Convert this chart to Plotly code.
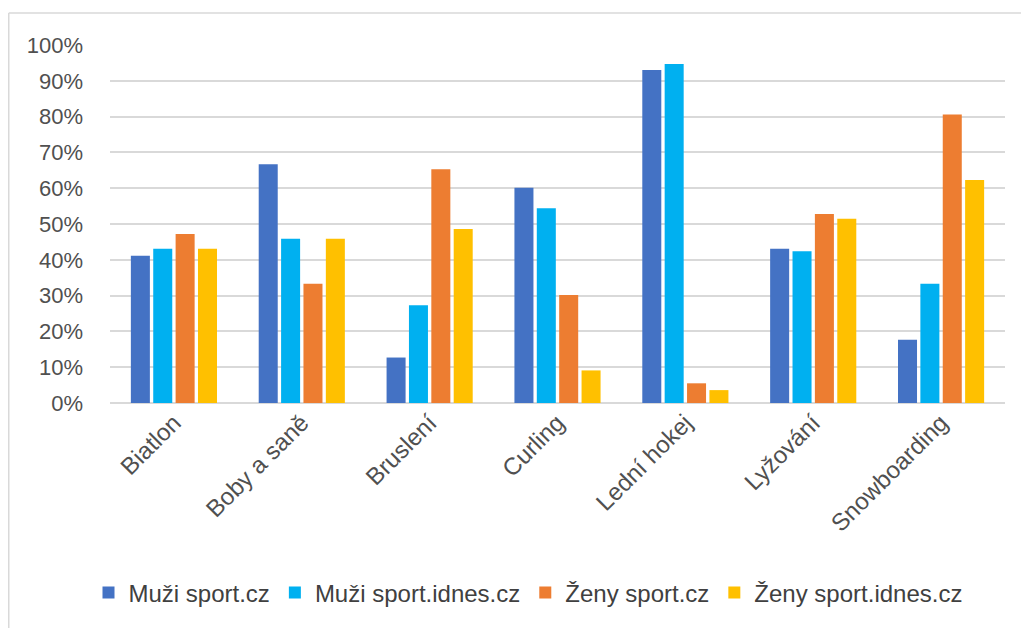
import plotly.graph_objects as go

categories = ["Biatlon", "Boby a saně", "Bruslení", "Curling", "Lední hokej", "Lyžování", "Snowboarding"]
muzi_sport = [41.1, 66.7, 12.7, 60.1, 93.0, 43.1, 17.7]
muzi_idnes = [43.1, 45.9, 27.3, 54.4, 94.7, 42.4, 33.3]
zeny_sport = [47.2, 33.3, 65.3, 30.2, 5.5, 52.8, 80.6]
zeny_idnes = [43.1, 45.9, 48.6, 9.1, 3.6, 51.5, 62.3]
series_names = ["Muži sport.cz", "Muži sport.idnes.cz", "Ženy sport.cz", "Ženy sport.idnes.cz"]
colors = ["#4472C4", "#00B0F0", "#ED7D31", "#FFC000"]
tick_vals = [0, 10, 20, 30, 40, 50, 60, 70, 80, 90, 100]
tick_text = [f"{v}%" for v in tick_vals]

fig = go.Figure()
for name, vals, col in zip(series_names, [muzi_sport, muzi_idnes, zeny_sport, zeny_idnes], colors):
    fig.add_trace(go.Bar(x=categories, y=vals, name=name, marker=dict(color=col, line=dict(width=0))))

W, H = 1029, 628
ml, mr, mt, mb = 102, 32, 37, 233
pw, ph = W - ml - mr, H - mt - mb

fam = "Liberation Sans, Arial, sans-serif"
font = dict(family=fam, size=22, color="#595959")

fig.update_layout(
    width=W, height=H,
    margin=dict(l=ml, r=mr, t=mt, b=mb, autoexpand=False),
    paper_bgcolor="white", plot_bgcolor="white",
    barmode="group", bargap=0.30, bargroupgap=0.15,
    font=font,
    showlegend=True,
    legend=dict(orientation="h", x=(520 - ml) / pw, xanchor="center", y=(395 - 585) / ph, yanchor="middle",
                font=dict(family=fam, size=24, color="#404040"),
                itemwidth=30, traceorder="normal"),
    xaxis=dict(tickangle=-45, showgrid=False, showline=False, ticks="",
               tickfont=dict(size=24, color="#505050")),
    yaxis=dict(range=[0, 100], tickvals=tick_vals, ticktext=tick_text,
               showgrid=True, gridcolor="#D9D9D9", gridwidth=1.5,
               zeroline=True, zerolinecolor="#D9D9D9", zerolinewidth=1.5,
               ticks="", ticklabelstandoff=26, tickfont=dict(size=22, color="#505050")),
)

# chart-area border (light gray), like the Excel frame
x_left = (0.75 - ml) / pw
y_top = 1 + (mt - 5) / ph
fig.add_shape(type="line", xref="paper", yref="paper", x0=x_left, x1=x_left, y0=y_top, y1=-(mb + 10) / ph,
              line=dict(color="#D9D9D9", width=1.5))
fig.add_shape(type="line", xref="paper", yref="paper", x0=x_left, x1=(W - ml + 10) / pw, y0=y_top, y1=y_top,
              line=dict(color="#D9D9D9", width=1.5))

fig.write_html("out.html")
